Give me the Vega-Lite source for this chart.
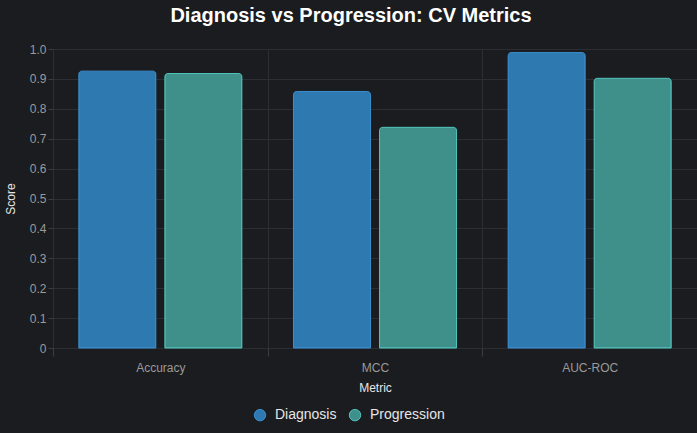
{
  "$schema": "https://vega.github.io/schema/vega-lite/v6.json",
  "width": 644, "height": 299,
  "autosize": {"type": "none"},
  "padding": {"left": 53, "top": 49, "right": 0, "bottom": 85},
  "background": "#1b1c20",
  "title": {
    "text": "Diagnosis vs Progression: CV Metrics",
    "fontSize": 20, "fontWeight": "bold", "color": "#ffffff",
    "anchor": "middle", "dx": -24, "offset": 17
  },
  "data": {
    "values": [
      {"metric": "Accuracy", "model": "Diagnosis", "score": 0.926},
      {"metric": "Accuracy", "model": "Progression", "score": 0.918},
      {"metric": "MCC", "model": "Diagnosis", "score": 0.858},
      {"metric": "MCC", "model": "Progression", "score": 0.738},
      {"metric": "AUC-ROC", "model": "Diagnosis", "score": 0.988},
      {"metric": "AUC-ROC", "model": "Progression", "score": 0.902}
    ]
  },
  "mark": {"type": "bar", "cornerRadiusTopLeft": 3, "cornerRadiusTopRight": 3, "strokeWidth": 1},
  "encoding": {
    "x": {
      "field": "metric", "type": "nominal", "sort": ["Accuracy", "MCC", "AUC-ROC"],
      "title": "Metric",
      "scale": {"paddingInner": 0, "paddingOuter": 0},
      "axis": {"labelAngle": 0, "tickBand": "extent", "grid": true, "domain": false, "tickSize": 8, "labelPadding": 6, "titlePadding": 9}
    },
    "xOffset": {"field": "model", "scale": {"paddingInner": 0.105, "paddingOuter": 0.3}},
    "y": {
      "field": "score", "type": "quantitative", "title": "Score",
      "scale": {"domain": [0, 1]},
      "axis": {"values": [0, 0.1, 0.2, 0.3, 0.4, 0.5, 0.6, 0.7, 0.8, 0.9, 1.0], "labelExpr": "datum.value == 0 ? '0' : format(datum.value, '.1f')", "domain": false, "tickSize": 5, "titlePadding": 12}
    },
    "color": {
      "field": "model", "type": "nominal", "title": null,
      "scale": {"domain": ["Diagnosis", "Progression"], "range": ["#2e7ab0", "#3f8f8b"]},
      "legend": {"orient": "none", "direction": "horizontal", "legendX": 200, "legendY": 359, "symbolType": "circle", "symbolSize": 130, "labelFontSize": 14, "labelColor": "#e6e6e6", "labelOffset": 8, "columnPadding": 10, "symbolStrokeWidth": 1}
    },
    "stroke": {
      "field": "model", "type": "nominal",
      "scale": {"domain": ["Diagnosis", "Progression"], "range": ["#3b8fcf", "#52c4bb"]},
      "legend": null
    }
  },
  "config": {
    "font": "Liberation Sans",
    "view": {"stroke": null},
    "axis": {
      "gridColor": "#2c2e34", "tickColor": "#3a3c42",
      "labelColor": "#9a9a9a", "labelFontSize": 12,
      "titleColor": "#e6e6e6", "titleFontSize": 12, "titleFontWeight": "normal"
    }
  }
}
